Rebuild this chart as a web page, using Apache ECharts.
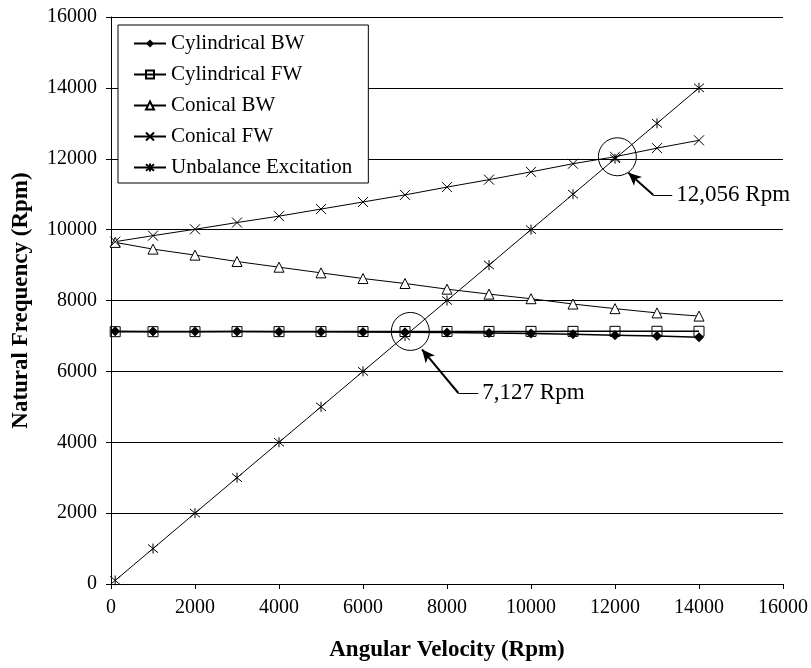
<!DOCTYPE html>
<html lang="en">
<head>
    <meta charset="UTF-8">
    <title>Natural Frequency vs Angular Velocity</title>
    <script type="text/javascript" src="https://cdn.jsdelivr.net/npm/echarts@6/dist/echarts.min.js"></script>
</head>
<body style="margin:0;background:#fff;">
<div id="main" style="width: 811px;height:668px;"></div>
<script type="text/javascript">
    // speeds (Rpm)
    var speeds = [100, 1000, 2000, 3000, 4000, 5000, 6000, 7000, 8000, 9000, 10000, 11000, 12000, 13000, 14000];

    var cylindricalBW = [7130, 7128, 7126, 7123, 7119, 7115, 7110, 7103, 7094, 7082, 7066, 7046, 7022, 7000, 6965];
    var cylindricalFW = [7120, 7120, 7121, 7122, 7122, 7123, 7124, 7125, 7126, 7127, 7128, 7129, 7130, 7131, 7132];
    var conicalBW = [9640, 9450, 9280, 9100, 8940, 8780, 8620, 8480, 8320, 8180, 8050, 7900, 7770, 7650, 7560];
    var conicalFW = [9660, 9830, 10010, 10200, 10380, 10580, 10780, 10980, 11200, 11410, 11630, 11860, 12056, 12300, 12520];
    var unbalance = [100, 1000, 2000, 3000, 4000, 5000, 6000, 7000, 8000, 9000, 10000, 11000, 12000, 13000, 14000];

    var seriesNames = ['Cylindrical BW', 'Cylindrical FW', 'Conical BW', 'Conical FW', 'Unbalance Excitation'];

    // crossing points marked on the chart
    var crossings = [[7127, 7127], [12056, 12056]];
    var crossingLabels = ['7,127 Rpm', '12,056 Rpm'];
    // callout leader lines: arrow tip, elbow, end of horizontal part
    var leaderTips = [[7405, 6620], [12317, 11606]];
    var leaderElbows = [[8269, 5390], [12912, 10977]];
    var leaderEnds = [[8745, 5390], [13364, 10977]];

    function pairs(xs, ys) {
        var out = [];
        for (var i = 0; i < xs.length; i++) out.push([xs[i], ys[i]]);
        return out;
    }

    var font = 'Liberation Serif, Times New Roman, serif';
    var crossSym = 'path://M0,0L10,10M10,0L0,10';
    var starSym = 'path://M0,0L10,10M10,0L0,10M5,-1L5,11';

    var leaderLines = [];
    for (var i = 0; i < crossings.length; i++) {
        leaderLines.push([
            {coord: leaderTips[i], symbol: 'arrow', symbolSize: [9, 13], lineStyle: {width: 2}},
            {coord: leaderElbows[i], symbol: 'none'}
        ]);
        leaderLines.push([
            {coord: leaderElbows[i], symbol: 'none', lineStyle: {width: 1},
                label: {show: true, position: 'end', formatter: crossingLabels[i], distance: 4,
                    fontSize: 23, color: '#000', fontFamily: font}},
            {coord: leaderEnds[i], symbol: 'none'}
        ]);
    }

    function plain(v) { return String(v); }

    var option = {
        animation: false,
        backgroundColor: '#fff',
        textStyle: {fontFamily: font, color: '#000'},
        grid: {
            left: 111,
            right: 28,
            top: 17,
            bottom: 84
        },
        legend: {
            data: seriesNames,
            orient: 'vertical',
            left: 118,
            top: 25,
            padding: [8, 16, 5, 15],
            itemGap: 10,
            itemWidth: 32,
            itemHeight: 10,
            backgroundColor: '#fff',
            borderColor: '#000',
            borderWidth: 1,
            borderRadius: 0,
            textStyle: {fontSize: 21, color: '#000', fontFamily: font}
        },
        xAxis: {
            type: 'value',
            min: 0,
            max: 16000,
            interval: 2000,
            name: 'Angular Velocity (Rpm)',
            nameLocation: 'middle',
            nameGap: 55,
            nameTextStyle: {fontSize: 23, fontWeight: 'bold', color: '#000', fontFamily: font},
            axisLine: {lineStyle: {color: '#000', width: 1}},
            axisTick: {length: 5, lineStyle: {color: '#000'}},
            axisLabel: {fontSize: 20, color: '#000', margin: 14, fontFamily: font, formatter: plain},
            splitLine: {show: false}
        },
        yAxis: {
            type: 'value',
            min: 0,
            max: 16000,
            interval: 2000,
            name: 'Natural Frequency (Rpm)',
            nameLocation: 'middle',
            nameGap: 78,
            nameTextStyle: {fontSize: 23, fontWeight: 'bold', color: '#000', fontFamily: font},
            axisLine: {show: true, lineStyle: {color: '#000', width: 1}},
            axisTick: {show: true, length: 5, lineStyle: {color: '#000'}},
            axisLabel: {fontSize: 20, color: '#000', margin: 14, fontFamily: font, formatter: plain},
            splitLine: {show: true, lineStyle: {color: '#000', width: 1}}
        },
        series: [
            {
                name: 'Cylindrical BW',
                type: 'line',
                data: pairs(speeds, cylindricalBW),
                symbol: 'diamond',
                symbolSize: 10,
                itemStyle: {color: '#000'},
                lineStyle: {color: '#000', width: 1.5}
            },
            {
                name: 'Cylindrical FW',
                type: 'line',
                data: pairs(speeds, cylindricalFW),
                symbol: 'rect',
                symbolSize: 10,
                itemStyle: {color: 'rgba(255,255,255,0)', borderColor: '#000', borderWidth: 1},
                lineStyle: {color: '#000', width: 1.5},
                z: 1
            },
            {
                name: 'Conical BW',
                type: 'line',
                data: pairs(speeds, conicalBW),
                symbol: 'triangle',
                symbolSize: 10,
                itemStyle: {color: '#fff', borderColor: '#000', borderWidth: 1},
                lineStyle: {color: '#000', width: 1}
            },
            {
                name: 'Conical FW',
                type: 'line',
                data: pairs(speeds, conicalFW),
                symbol: crossSym,
                symbolSize: 10,
                itemStyle: {color: '#000', borderColor: '#000', borderWidth: 1},
                lineStyle: {color: '#000', width: 1}
            },
            {
                name: 'Unbalance Excitation',
                type: 'line',
                data: pairs(speeds, unbalance),
                symbol: starSym,
                symbolSize: 10,
                itemStyle: {color: '#000', borderColor: '#000', borderWidth: 1},
                lineStyle: {color: '#000', width: 1},
                markPoint: {
                    silent: true,
                    symbol: 'circle',
                    symbolSize: 38,
                    itemStyle: {color: 'rgba(0,0,0,0)', borderColor: '#000', borderWidth: 1},
                    label: {show: false},
                    data: crossings.map(function (c) { return {coord: c}; })
                },
                markLine: {
                    silent: true,
                    symbol: ['none', 'none'],
                    lineStyle: {color: '#000', type: 'solid', width: 1},
                    label: {show: false},
                    data: leaderLines
                }
            }
        ]
    };

    var myChart = echarts.init(document.getElementById('main'));
    myChart.setOption(option);
</script>
</body>
</html>
